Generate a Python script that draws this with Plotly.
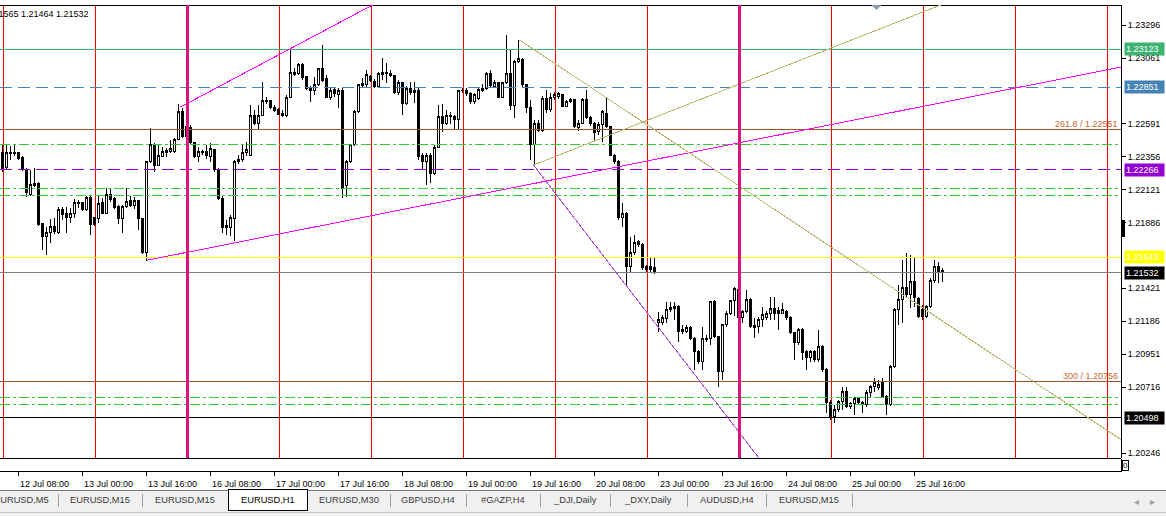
import plotly.graph_objects as go

# ---------------- data (EURUSD, H1) ----------------
bar_index = list(range(236))

open_prices = [
    1.22385, 1.22278, 1.22378, 1.22378, 1.22385, 1.22349, 1.22264, 1.22086, 1.22164, 1.22164,
    1.21879, 1.21787, 1.21815, 1.21858, 1.21815, 1.21979, 1.21957, 1.21922, 1.21957, 1.22022,
    1.22029, 1.21979, 1.22071, 1.21922, 1.21915, 1.22029, 1.21957, 1.22086, 1.22064, 1.22000,
    1.21915, 1.22000, 1.22043, 1.22014, 1.22043, 1.21915, 1.21673, 1.22321, 1.22442, 1.22299,
    1.22363, 1.22385, 1.22392, 1.22392, 1.22484, 1.22677, 1.22499, 1.22563, 1.22456, 1.22356,
    1.22385, 1.22392, 1.22363, 1.22406, 1.22264, 1.22064, 1.21865, 1.21851, 1.21915, 1.22321,
    1.22335, 1.22385, 1.22370, 1.22655, 1.22598, 1.22655, 1.22755, 1.22755, 1.22712, 1.22691,
    1.22669, 1.22648, 1.22783, 1.22947, 1.22954, 1.23018, 1.22926, 1.22847, 1.22833, 1.22869,
    1.22983, 1.22912, 1.22783, 1.22840, 1.22798, 1.22833, 1.22150, 1.22321, 1.22442, 1.22677,
    1.22862, 1.22869, 1.22926, 1.22897, 1.22855, 1.22947, 1.22954, 1.22954, 1.22933, 1.22812,
    1.22883, 1.22734, 1.22847, 1.22812, 1.22833, 1.22370, 1.22321, 1.22370, 1.22242, 1.22427,
    1.22641, 1.22598, 1.22641, 1.22641, 1.22620, 1.22826, 1.22826, 1.22805, 1.22748, 1.22776,
    1.22833, 1.22847, 1.22954, 1.22855, 1.22883, 1.22783, 1.22883, 1.22954, 1.22726, 1.23033,
    1.23047, 1.22869, 1.22712, 1.22442, 1.22598, 1.22548, 1.22776, 1.22691, 1.22783, 1.22784,
    1.22798, 1.22719, 1.22748, 1.22762, 1.22563, 1.22598, 1.22762, 1.22634, 1.22598, 1.22541,
    1.22584, 1.22669, 1.22570, 1.22370, 1.22321, 1.21922, 1.21957, 1.21573, 1.21673, 1.21751,
    1.21730, 1.21573, 1.21573, 1.21566, 1.21174, 1.21174, 1.21203, 1.21267, 1.21274, 1.21288,
    1.21124, 1.21110, 1.21139, 1.21067, 1.20968, 1.20897, 1.21053, 1.21067, 1.21324, 1.21075,
    1.20826, 1.21160, 1.21245, 1.21331, 1.21409, 1.21210, 1.21253, 1.21338, 1.21153, 1.21146,
    1.21196, 1.21210, 1.21245, 1.21274, 1.21260, 1.21245, 1.21253, 1.21210, 1.21103, 1.21032,
    1.21124, 1.20968, 1.20926, 1.20968, 1.20911, 1.21004, 1.20840, 1.20605, 1.20505, 1.20555,
    1.20612, 1.20683, 1.20576, 1.20598, 1.20633, 1.20605, 1.20590, 1.20676, 1.20719, 1.20712,
    1.20754, 1.20648, 1.20590, 1.20861, 1.21267, 1.21338, 1.21430, 1.21374, 1.21466, 1.21345,
    1.21267, 1.21217, 1.21288, 1.21480, 1.21573, 1.21545,
]
high_prices = [
    1.22442, 1.22442, 1.22435, 1.22442, 1.22392, 1.22363, 1.22278, 1.22264, 1.22278, 1.22178,
    1.21886, 1.21858, 1.21915, 1.21922, 1.22000, 1.22000, 1.22000, 1.21993, 1.22057, 1.22050,
    1.22036, 1.22078, 1.22078, 1.21929, 1.22086, 1.22064, 1.22135, 1.22135, 1.22071, 1.22014,
    1.22014, 1.22135, 1.22078, 1.22071, 1.22050, 1.21915, 1.22321, 1.22563, 1.22456, 1.22442,
    1.22427, 1.22420, 1.22477, 1.22491, 1.22734, 1.22705, 1.22620, 1.22584, 1.22463, 1.22427,
    1.22406, 1.22442, 1.22456, 1.22413, 1.22278, 1.22078, 1.21908, 1.21943, 1.22335, 1.22370,
    1.22442, 1.22463, 1.22726, 1.22691, 1.22726, 1.22890, 1.22783, 1.22762, 1.22726, 1.22705,
    1.22691, 1.22798, 1.23132, 1.22990, 1.23025, 1.23025, 1.22933, 1.22862, 1.22926, 1.22990,
    1.23154, 1.22940, 1.22847, 1.22855, 1.22847, 1.22847, 1.22335, 1.22449, 1.22691, 1.22876,
    1.22919, 1.22976, 1.22940, 1.22912, 1.22961, 1.23061, 1.23025, 1.22976, 1.22940, 1.22904,
    1.22890, 1.22862, 1.22890, 1.22890, 1.22847, 1.22385, 1.22385, 1.22385, 1.22442, 1.22726,
    1.22734, 1.22691, 1.22677, 1.22655, 1.22833, 1.22847, 1.22847, 1.22819, 1.22812, 1.22855,
    1.22876, 1.22961, 1.22976, 1.22904, 1.22890, 1.22890, 1.23225, 1.23118, 1.23047, 1.23189,
    1.23061, 1.22876, 1.22762, 1.22620, 1.22620, 1.22790, 1.22833, 1.22812, 1.22819, 1.22819,
    1.22805, 1.22762, 1.22776, 1.22769, 1.22620, 1.22776, 1.22833, 1.22648, 1.22605, 1.22605,
    1.22691, 1.22776, 1.22577, 1.22378, 1.22335, 1.22029, 1.21965, 1.21787, 1.21801, 1.21765,
    1.21744, 1.21587, 1.21644, 1.21637, 1.21253, 1.21231, 1.21324, 1.21324, 1.21324, 1.21302,
    1.21160, 1.21160, 1.21153, 1.21075, 1.20982, 1.21146, 1.21089, 1.21331, 1.21338, 1.21082,
    1.21167, 1.21260, 1.21338, 1.21430, 1.21430, 1.21267, 1.21409, 1.21352, 1.21210, 1.21217,
    1.21288, 1.21260, 1.21359, 1.21359, 1.21288, 1.21317, 1.21267, 1.21224, 1.21110, 1.21139,
    1.21139, 1.20982, 1.20982, 1.20982, 1.21124, 1.21018, 1.20854, 1.20626, 1.20590, 1.20626,
    1.20719, 1.20719, 1.20612, 1.20647, 1.20647, 1.20619, 1.20697, 1.20733, 1.20783, 1.20768,
    1.20783, 1.20662, 1.20875, 1.21281, 1.21445, 1.21623, 1.21673, 1.21658, 1.21637, 1.21359,
    1.21302, 1.21302, 1.21495, 1.21623, 1.21609, 1.21565,
]
low_prices = [
    1.22249, 1.22264, 1.22335, 1.22363, 1.22335, 1.22257, 1.22071, 1.22078, 1.22143, 1.21865,
    1.21694, 1.21658, 1.21744, 1.21808, 1.21808, 1.21908, 1.21815, 1.21886, 1.21922, 1.21993,
    1.21972, 1.21972, 1.21801, 1.21865, 1.21886, 1.21950, 1.21950, 1.22036, 1.21986, 1.21879,
    1.21815, 1.21993, 1.22000, 1.21986, 1.21836, 1.21666, 1.21616, 1.22313, 1.22249, 1.22292,
    1.22356, 1.22356, 1.22385, 1.22385, 1.22477, 1.22491, 1.22491, 1.22442, 1.22349, 1.22321,
    1.22370, 1.22342, 1.22321, 1.22249, 1.22050, 1.21815, 1.21801, 1.21794, 1.21758, 1.22306,
    1.22321, 1.22363, 1.22363, 1.22584, 1.22548, 1.22648, 1.22734, 1.22698, 1.22677, 1.22655,
    1.22641, 1.22641, 1.22776, 1.22933, 1.22940, 1.22904, 1.22833, 1.22748, 1.22798, 1.22862,
    1.22890, 1.22776, 1.22762, 1.22783, 1.22705, 1.22064, 1.22071, 1.22313, 1.22435, 1.22669,
    1.22855, 1.22855, 1.22890, 1.22847, 1.22847, 1.22904, 1.22883, 1.22926, 1.22805, 1.22798,
    1.22655, 1.22726, 1.22798, 1.22741, 1.22335, 1.22264, 1.22157, 1.22171, 1.22228, 1.22420,
    1.22534, 1.22584, 1.22591, 1.22548, 1.22548, 1.22812, 1.22790, 1.22734, 1.22734, 1.22762,
    1.22819, 1.22833, 1.22847, 1.22847, 1.22776, 1.22776, 1.22876, 1.22691, 1.22634, 1.23025,
    1.22847, 1.22669, 1.22335, 1.22292, 1.22534, 1.22534, 1.22669, 1.22677, 1.22762, 1.22769,
    1.22712, 1.22712, 1.22741, 1.22563, 1.22541, 1.22591, 1.22627, 1.22577, 1.22463, 1.22513,
    1.22463, 1.22563, 1.22363, 1.22306, 1.21908, 1.21858, 1.21445, 1.21537, 1.21658, 1.21716,
    1.21552, 1.21537, 1.21537, 1.21523, 1.21110, 1.21160, 1.21174, 1.21253, 1.21196, 1.21039,
    1.21096, 1.21103, 1.21053, 1.20840, 1.20883, 1.20840, 1.21039, 1.21018, 1.21067, 1.20719,
    1.20768, 1.21146, 1.21231, 1.21224, 1.21196, 1.21174, 1.21245, 1.21139, 1.21067, 1.21103,
    1.21146, 1.21196, 1.21196, 1.21196, 1.21124, 1.21238, 1.21196, 1.21096, 1.20911, 1.21018,
    1.20911, 1.20840, 1.20897, 1.20897, 1.20897, 1.20826, 1.20534, 1.20484, 1.20462, 1.20541,
    1.20555, 1.20569, 1.20562, 1.20519, 1.20590, 1.20534, 1.20576, 1.20648, 1.20683, 1.20697,
    1.20641, 1.20519, 1.20583, 1.20854, 1.21160, 1.21174, 1.21359, 1.21281, 1.21288, 1.21210,
    1.21196, 1.21210, 1.21281, 1.21459, 1.21459, 1.21464,
]
close_prices = [
    1.22264, 1.22385, 1.22385, 1.22385, 1.22342, 1.22264, 1.22100, 1.22157, 1.22150, 1.21872,
    1.21787, 1.21815, 1.21858, 1.21822, 1.21979, 1.21950, 1.21922, 1.21957, 1.22029, 1.22029,
    1.21979, 1.22071, 1.21872, 1.21872, 1.22022, 1.21957, 1.22086, 1.22050, 1.21993, 1.21915,
    1.22000, 1.22036, 1.22014, 1.22043, 1.21915, 1.21673, 1.22321, 1.22442, 1.22299, 1.22370,
    1.22392, 1.22399, 1.22413, 1.22484, 1.22677, 1.22499, 1.22570, 1.22456, 1.22356, 1.22392,
    1.22392, 1.22370, 1.22413, 1.22264, 1.22064, 1.21851, 1.21851, 1.21922, 1.22321, 1.22335,
    1.22385, 1.22406, 1.22655, 1.22598, 1.22655, 1.22755, 1.22748, 1.22705, 1.22684, 1.22662,
    1.22655, 1.22783, 1.22961, 1.22961, 1.23018, 1.22919, 1.22847, 1.22833, 1.22869, 1.22983,
    1.22904, 1.22783, 1.22833, 1.22805, 1.22833, 1.22135, 1.22321, 1.22442, 1.22677, 1.22869,
    1.22876, 1.22940, 1.22904, 1.22855, 1.22954, 1.22961, 1.22961, 1.22933, 1.22812, 1.22883,
    1.22734, 1.22847, 1.22812, 1.22833, 1.22363, 1.22321, 1.22370, 1.22242, 1.22427, 1.22641,
    1.22598, 1.22648, 1.22655, 1.22620, 1.22826, 1.22833, 1.22805, 1.22748, 1.22798, 1.22840,
    1.22847, 1.22954, 1.22862, 1.22883, 1.22783, 1.22883, 1.22954, 1.22726, 1.23033, 1.23061,
    1.22869, 1.22712, 1.22442, 1.22598, 1.22548, 1.22776, 1.22691, 1.22783, 1.22798, 1.22805,
    1.22719, 1.22748, 1.22762, 1.22570, 1.22598, 1.22762, 1.22634, 1.22598, 1.22534, 1.22584,
    1.22677, 1.22570, 1.22370, 1.22321, 1.21922, 1.21957, 1.21573, 1.21673, 1.21744, 1.21730,
    1.21566, 1.21552, 1.21552, 1.21537, 1.21196, 1.21210, 1.21267, 1.21281, 1.21288, 1.21110,
    1.21110, 1.21139, 1.21067, 1.20968, 1.20897, 1.21067, 1.21067, 1.21324, 1.21075, 1.20826,
    1.21160, 1.21245, 1.21331, 1.21423, 1.21210, 1.21253, 1.21338, 1.21146, 1.21139, 1.21196,
    1.21231, 1.21245, 1.21274, 1.21245, 1.21245, 1.21267, 1.21210, 1.21103, 1.21032, 1.21124,
    1.20961, 1.20926, 1.20968, 1.20911, 1.21004, 1.20840, 1.20605, 1.20505, 1.20555, 1.20612,
    1.20683, 1.20576, 1.20598, 1.20633, 1.20605, 1.20590, 1.20676, 1.20719, 1.20747, 1.20733,
    1.20648, 1.20590, 1.20861, 1.21267, 1.21338, 1.21430, 1.21374, 1.21466, 1.21352, 1.21217,
    1.21217, 1.21288, 1.21480, 1.21573, 1.21537, 1.21532,
]

date_tick_bars = [4, 20, 36, 52, 68, 84, 100, 116, 132, 148, 164, 180, 196, 212, 228]
date_tick_labels = ["12 Jul 08:00", "13 Jul 00:00", "13 Jul 16:00", "16 Jul 08:00",
                    "17 Jul 00:00", "17 Jul 16:00", "18 Jul 08:00", "19 Jul 00:00",
                    "19 Jul 16:00", "20 Jul 08:00", "23 Jul 00:00", "23 Jul 16:00",
                    "24 Jul 08:00", "25 Jul 00:00", "25 Jul 16:00"]

price_ticks = [1.23296, 1.23061, 1.22591, 1.22356, 1.22121, 1.21886,
               1.21421, 1.21186, 1.20951, 1.20716, 1.20246]

# horizontal objects
level_prices = [1.23123, 1.22851, 1.22551, 1.22442, 1.22266, 1.22133, 1.22079,
                1.21643, 1.21532, 1.20756, 1.20642, 1.20590, 1.20498]
level_colors = ["#3CB371", "#4682B4", "#A0522D", "#32CD32", "#9400D3", "#32CD32", "#32CD32",
                "#FFFF00", "#808080", "#A0522D", "#32CD32", "#32CD32", "#000000"]
level_dashes = ["solid", "12px,6px", "solid", "10px,3px,3px,3px", "12px,6px",
                "10px,3px,3px,3px", "10px,3px,3px,3px", "solid", "solid", "solid",
                "10px,3px,3px,3px", "10px,3px,3px,3px", "solid"]

label_prices = [1.23123, 1.22851, 1.22266, 1.21643, 1.21532, 1.20498]
label_colors = ["#3CB371", "#4682B4", "#9400D3", "#FFFF00", "#000000", "#000000"]

fibo_texts = ["261.8 / 1.22551", "300 / 1.20756"]
fibo_prices = [1.22551, 1.20756]

# trend lines: (bar0, price0, bar1, price1, color)
trend_lines = [
    (36.0, 1.21620, 279.75, 1.22997, "#FF00FF"),
    (44.5, 1.22712, 100.0, 1.23552, "#FF00FF"),
    (132.75, 1.22299, 189.1, 1.20212, "#B050D8"),
    (129.25, 1.23189, 279.75, 1.20341, "#BDB76B"),
    (132.75, 1.22299, 234.5, 1.23438, "#BDB76B"),
]
marker_vlines = [46.25, 184.25]

tab_labels = ["EURUSD,M5", "EURUSD,M15", "EURUSD,M15", "EURUSD,H1", "EURUSD,M30",
              "GBPUSD,H4", "#GAZP,H4", "_DJI,Daily", "_DXY,Daily", "AUDUSD,H4", "EURUSD,M15"]
tab_edges = [-16, 58, 142, 228, 307, 390, 466, 540, 610, 687, 766, 852]
active_tab = 3

# ---------------- geometry helpers (layout chrome only) ----------------
W, H = 1166, 516
PL, PR, PT, PB = 0, 1121, 5, 471
X_RANGE = [-0.625, 279.625]
Y_RANGE = [1.202124, 1.234384]
MAIN_BOTTOM = 458


def pxx(p):
    return (p - PL) / (PR - PL)


def pxy(p):
    return (PB - p) / (PB - PT)


FONT = "Liberation Sans, Arial, sans-serif"

fig = go.Figure()
fig.add_trace(go.Candlestick(
    x=bar_index, open=open_prices, high=high_prices, low=low_prices, close=close_prices,
    increasing=dict(line=dict(color="black", width=1), fillcolor="white"),
    decreasing=dict(line=dict(color="black", width=1), fillcolor="black"),
    whiskerwidth=0, hoverinfo="skip", showlegend=False, xaxis="x", yaxis="y"))
fig.add_trace(go.Scatter(x=[0], y=[1.22], xaxis="x2", yaxis="y", mode="markers",
                         marker=dict(opacity=0), hoverinfo="skip", showlegend=False))
fig.add_trace(go.Scatter(x=[0], y=[0], xaxis="x", yaxis="y2", mode="markers",
                         marker=dict(opacity=0), hoverinfo="skip", showlegend=False))

shapes = []
shapes.append(dict(type="line", xref="paper", yref="paper", x0=0, x1=1,
                   y0=pxy(MAIN_BOTTOM), y1=pxy(MAIN_BOTTOM), line=dict(color="black", width=1)))
shapes.append(dict(type="line", xref="paper", yref="paper", x0=0, x1=1, y0=1, y1=1,
                   line=dict(color="black", width=1)))
for p, c, d in zip(level_prices, level_colors, level_dashes):
    shapes.append(dict(type="line", xref="paper", yref="y", x0=0, x1=1, y0=p, y1=p,
                       line=dict(color=c, width=1, dash=d), layer="above"))
for b0, p0, b1, p1, c in trend_lines:
    shapes.append(dict(type="line", xref="x", yref="y", x0=b0, y0=p0, x1=b1, y1=p1,
                       line=dict(color=c, width=1), layer="above"))
for b in marker_vlines:
    shapes.append(dict(type="line", xref="x", yref="paper", x0=b, x1=b,
                       y0=pxy(MAIN_BOTTOM), y1=1, line=dict(color="#DC1480", width=3), layer="above"))
shapes.append(dict(type="path", xref="paper", yref="paper",
                   path=f"M {pxx(872)} {pxy(5)} L {pxx(881)} {pxy(5)} L {pxx(876.5)} {pxy(10)} Z",
                   fillcolor="#8C9CB0", line=dict(width=0)))
shapes.append(dict(type="rect", xref="paper", yref="paper", x0=pxx(1122), x1=pxx(1125),
                   y0=pxy(237), y1=pxy(220), fillcolor="black", line=dict(width=0)))

# tab bar
shapes.append(dict(type="rect", xref="paper", yref="paper", x0=pxx(0), x1=pxx(W),
                   y0=pxy(H + 2), y1=pxy(490), fillcolor="#F0F0F0", line=dict(width=0)))
shapes.append(dict(type="line", xref="paper", yref="paper", x0=pxx(0), x1=pxx(W),
                   y0=pxy(490), y1=pxy(490), line=dict(color="#7A7A7A", width=1)))
shapes.append(dict(type="line", xref="paper", yref="paper", x0=pxx(0), x1=pxx(W),
                   y0=pxy(512), y1=pxy(512), line=dict(color="#C8C8C8", width=1)))
a0, a1 = tab_edges[active_tab], tab_edges[active_tab + 1]
shapes.append(dict(type="path", xref="paper", yref="paper",
                   path=(f"M {pxx(a0)} {pxy(510)} L {pxx(a0)} {pxy(489)} L {pxx(a1)} {pxy(489)} "
                         f"L {pxx(a1)} {pxy(510)} Z"),
                   fillcolor="white", line=dict(color="black", width=1)))
for k, e in enumerate(tab_edges[1:]):
    if k + 1 in (active_tab, active_tab + 1):
        continue
    shapes.append(dict(type="line", xref="paper", yref="paper", x0=pxx(e), x1=pxx(e),
                       y0=pxy(507), y1=pxy(494), line=dict(color="#A0A0A0", width=1)))

annotations = []
for p, c in zip(label_prices, label_colors):
    annotations.append(dict(xref="paper", yref="y", x=1, y=p, xanchor="left", yanchor="middle",
                            xshift=3, text=f"{p:.5f}", showarrow=False, bgcolor=c, borderpad=1,
                            width=37, align="left",
                            font=dict(family=FONT, size=9, color="white")))
for t, p in zip(fibo_texts, fibo_prices):
    annotations.append(dict(xref="paper", yref="y", x=pxx(1120), y=p, xanchor="right",
                            yanchor="bottom", yshift=-1, text=t, showarrow=False,
                            font=dict(family=FONT, size=9, color="#C8642A")))
annotations.append(dict(xref="paper", yref="paper", x=pxx(91), y=pxy(14), xanchor="right",
                        yanchor="middle", text="1.21565 1.21464 1.21532", showarrow=False,
                        font=dict(family=FONT, size=9, color="black")))
annotations.append(dict(xref="paper", yref="paper", x=pxx(1122), y=pxy(465.5), xanchor="left",
                        yanchor="middle", text="0", showarrow=False, borderpad=0,
                        bordercolor="black", borderwidth=1,
                        font=dict(family=FONT, size=8, color="black")))
for k, name in enumerate(tab_labels):
    cx = (tab_edges[k] + tab_edges[k + 1]) / 2
    annotations.append(dict(xref="paper", yref="paper", x=pxx(cx), y=pxy(500), xanchor="center",
                            yanchor="middle", text=name, showarrow=False,
                            font=dict(family=FONT, size=9.3,
                                      color="black" if k == active_tab else "#3A3A3A")))
annotations.append(dict(xref="paper", yref="paper", x=pxx(1141), y=pxy(501), yanchor="middle",
                        text="◂", showarrow=False, font=dict(family=FONT, size=10, color="#A0A0A0")))
annotations.append(dict(xref="paper", yref="paper", x=pxx(1157), y=pxy(501), yanchor="middle",
                        text="▸", showarrow=False, font=dict(family=FONT, size=10, color="#A0A0A0")))

dom_split = (PB - MAIN_BOTTOM) / (PB - PT)

fig.update_layout(
    width=W, height=H, margin=dict(l=PL, r=W - PR, t=PT, b=H - PB),
    paper_bgcolor="white", plot_bgcolor="white", showlegend=False,
    boxgap=0.5, boxgroupgap=0, hovermode=False,
    shapes=shapes, annotations=annotations,
    xaxis=dict(range=X_RANGE, anchor="y2", tickmode="array", tickvals=date_tick_bars,
               ticktext=date_tick_labels, ticks="outside", ticklen=4, tickcolor="black",
               showline=True, linecolor="black", linewidth=1, showgrid=False, zeroline=False,
               rangeslider=dict(visible=False), ticklabelshift=26,
               tickfont=dict(family=FONT, size=9, color="black")),
    xaxis2=dict(range=X_RANGE, overlaying="x", anchor="y", tick0=0.25, dtick=23,
                showgrid=True, gridcolor="#FF0000", gridwidth=1, showticklabels=False,
                ticks="", showline=False, zeroline=False),
    yaxis=dict(range=Y_RANGE, domain=[dom_split, 1], side="right", anchor="x",
               tickmode="array", tickvals=price_ticks, ticktext=[f"{v:.5f}" for v in price_ticks],
               ticks="outside", ticklen=4, tickcolor="black", showline=True, linecolor="black",
               showgrid=False, zeroline=False,
               tickfont=dict(family=FONT, size=9, color="black")),
    yaxis2=dict(range=[-1, 1], domain=[0, dom_split - 0.002], side="right", anchor="x",
                showticklabels=False, ticks="", showline=True, linecolor="black",
                showgrid=False, zeroline=False),
)

post = ("document.body.style.margin='0px';document.body.style.overflow='hidden';"
        "document.querySelectorAll('.shapelayer path, .boxlayer path').forEach(function(e){"
        "e.style.shapeRendering='crispEdges';});")
fig.write_html("out.html", config={"displayModeBar": False}, post_script=post)
